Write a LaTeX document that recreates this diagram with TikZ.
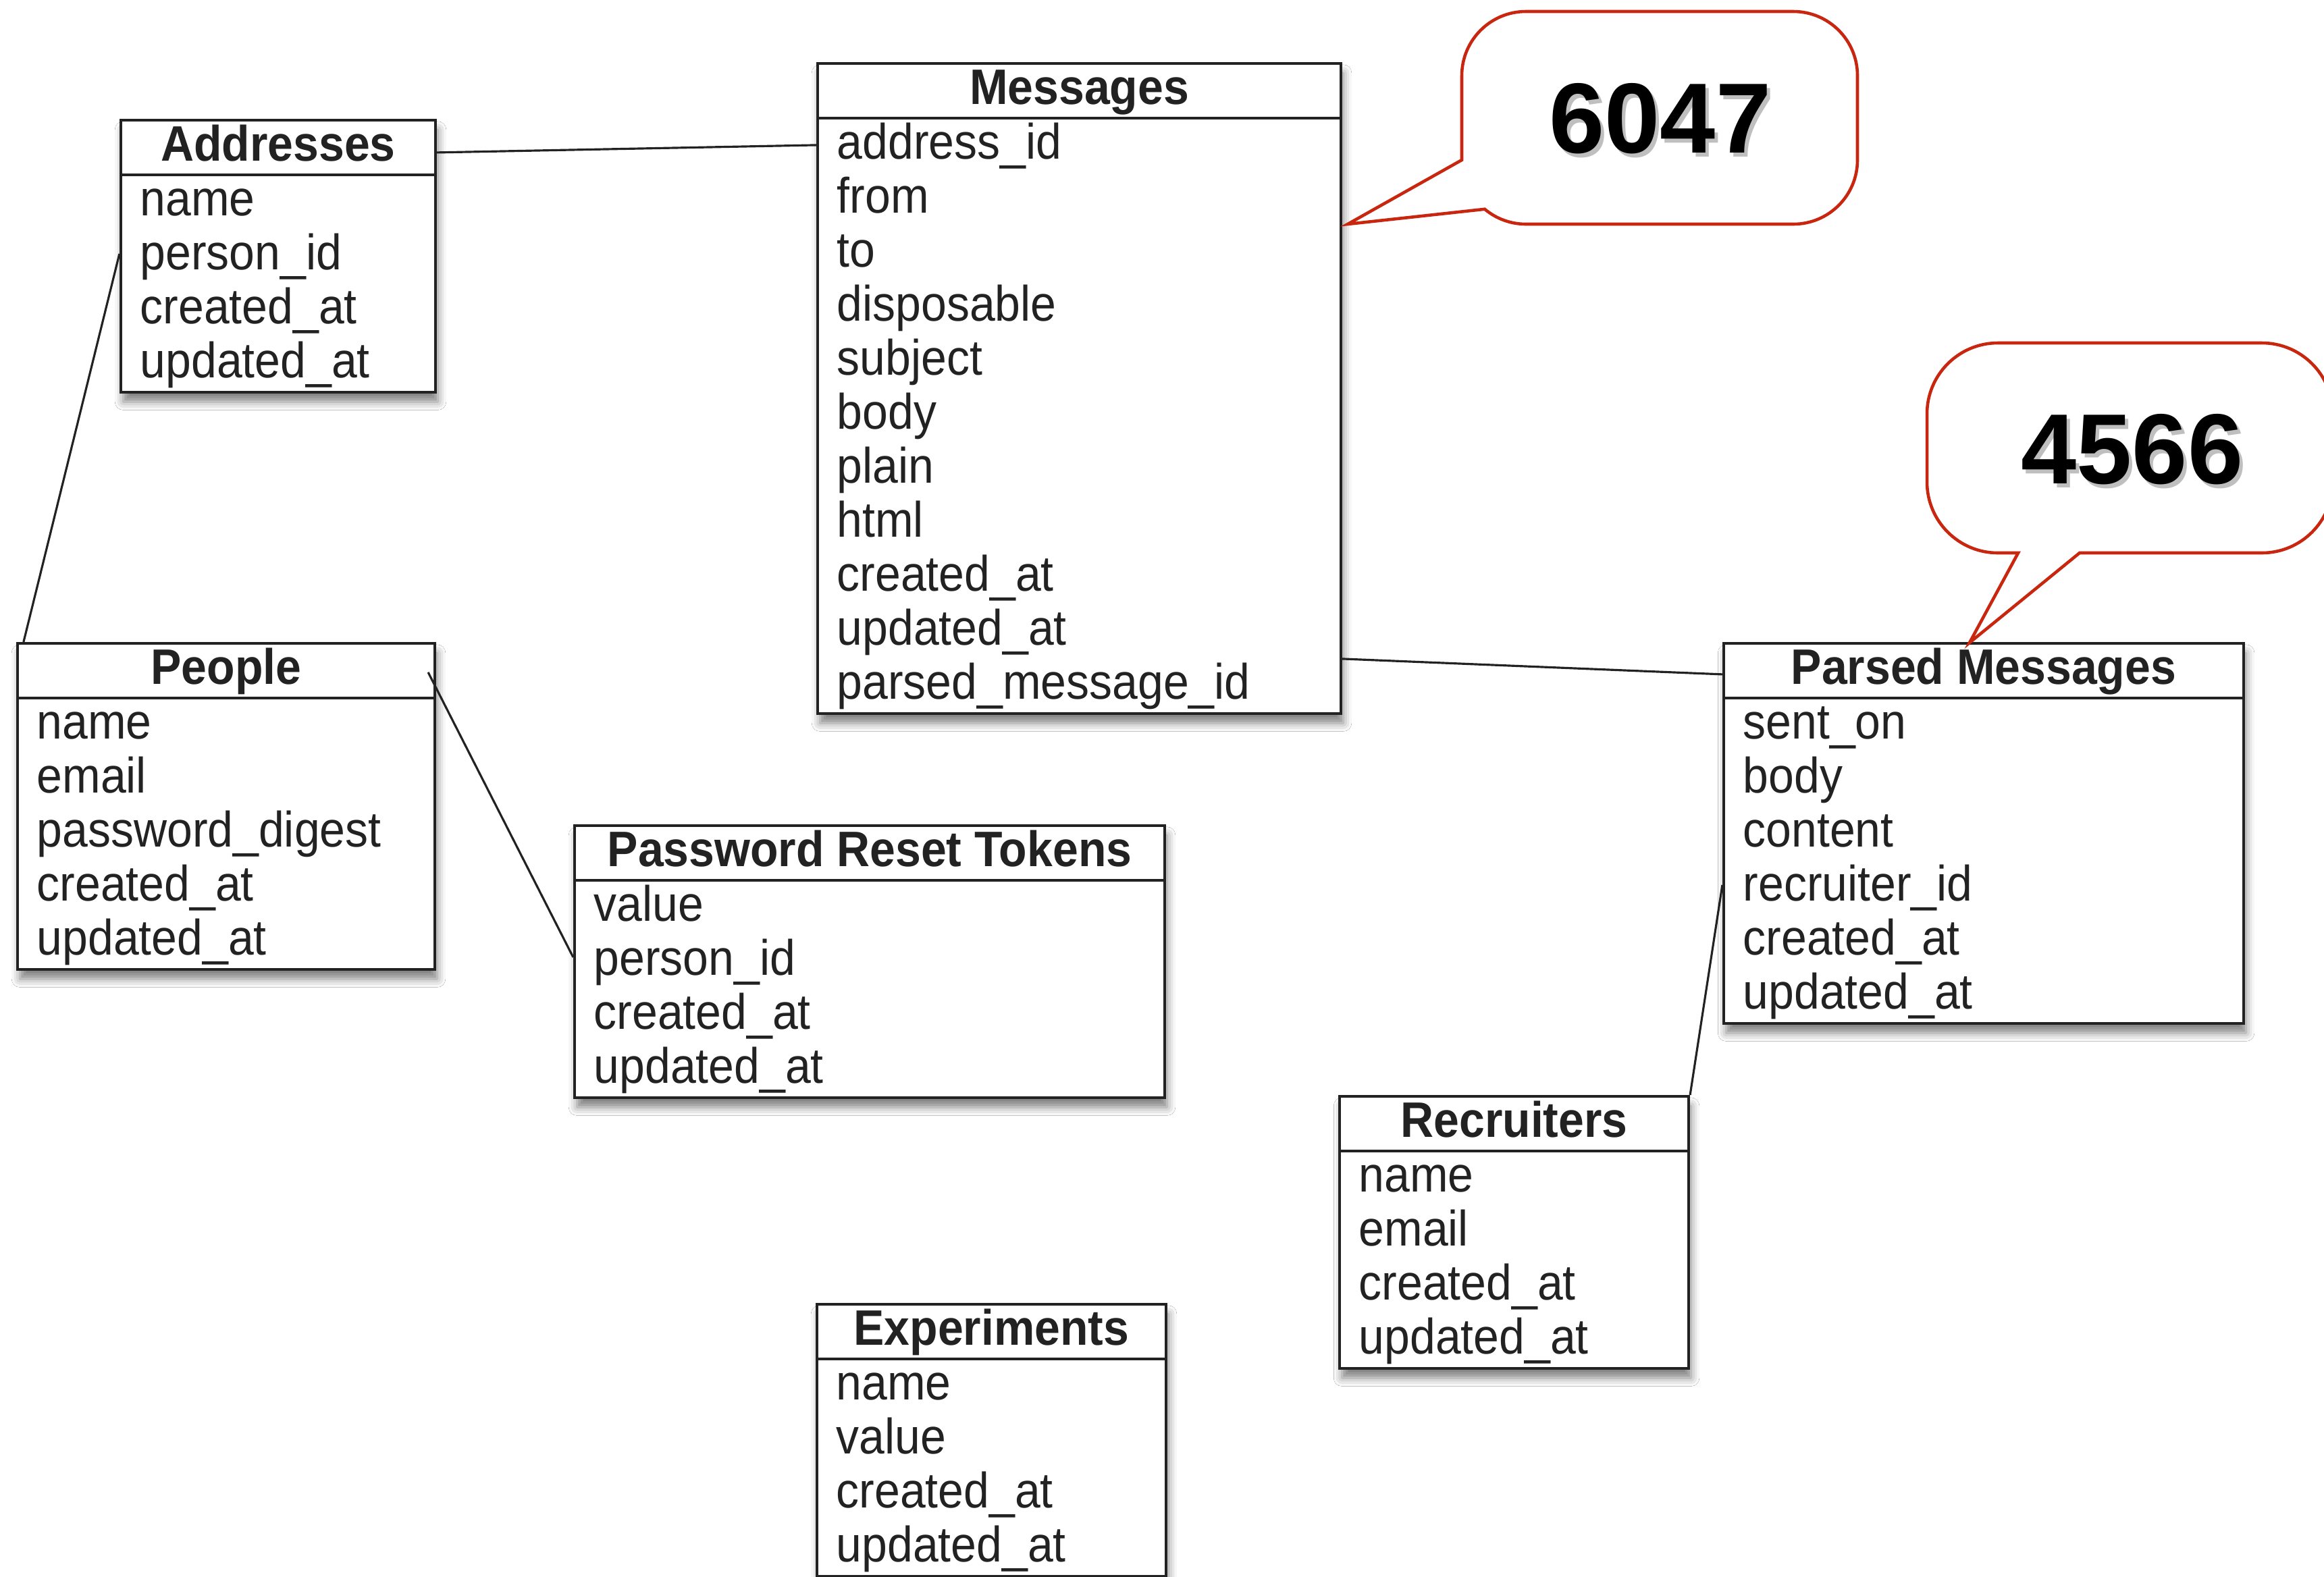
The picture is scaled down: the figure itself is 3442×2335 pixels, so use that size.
\documentclass[tikz,border=0pt]{standalone}
\usepackage{fontspec}
\setmainfont{Liberation Sans}[FakeStretch=0.92]
\newfontfamily\calloutfont{Liberation Sans}
\usetikzlibrary{calc,fit,shadows.blur}
\definecolor{calloutred}{RGB}{200,38,15}
\definecolor{ink}{RGB}{34,34,34}

\tikzset{
  tablebox/.style={draw=ink, line width=1.2pt, fill=white, inner sep=0pt,
    blur shadow={shadow xshift=1pt, shadow yshift=-4pt, shadow blur radius=3.5pt, shadow opacity=50}},
  headrule/.style={draw=ink, line width=1.2pt},
  titletext/.style={font=\bfseries\fontsize{21}{25}\selectfont, text=ink, anchor=base, inner sep=0pt},
  fieldtext/.style={font=\fontsize{21}{25}\selectfont, text=ink, anchor=base west, inner sep=0pt},
  link/.style={draw=ink, line width=0.9pt},
  callout/.style={draw=calloutred, line width=1.3pt, fill=white, line join=miter},
  calloutnum/.style={font=\calloutfont\bfseries\fontsize{42}{48}\selectfont, inner sep=0pt}
}

% #1 name, #2 left, #3 top, #4 right, #5 number of fields, #6 title, #7 fields
\newcommand\erdtable[7]{%
  \pgfmathsetmacro\erdhead{#3+81}%
  \pgfmathsetmacro\erdbottom{#3+83+80*#5}%
  \coordinate (#1-nw) at (#2,#3);
  \coordinate (#1-se) at (#4,\erdbottom);
  \node[tablebox, fit=(#1-nw)(#1-se)] (#1) {};
  \draw[headrule] (#2,\erdhead) -- (#4,\erdhead);
  \node[titletext] (#1-title) at ({(#2+#4)/2},{#3+60}) {#6};
  \foreach \fld [count=\rowidx from 0] in {#7} {
    \node[fieldtext] (#1-f\rowidx) at ({#2+28},{\erdhead+60+80*\rowidx}) {\fld};
  }
}

\begin{document}
\begin{tikzpicture}[x=0.01cm, y=-0.01cm]
  \useasboundingbox (0,0) rectangle (3442,2335);
  \fill[white] (0,0) rectangle (3442,2335);
  \clip (0,0) rectangle (3442,2335);

  % tables
  \erdtable{addr}{179}{178}{645}{4}{Addresses}{name,person\_id,created\_at,updated\_at}
  \erdtable{msg}{1211}{94}{1986}{11}{Messages}{address\_id,from,to,disposable,subject,body,plain,html,created\_at,updated\_at,parsed\_message\_id}
  \erdtable{people}{26}{953}{644}{5}{People}{name,email,password\_digest,created\_at,updated\_at}
  \erdtable{prt}{851}{1223}{1725}{4}{Password Reset Tokens}{value,person\_id,created\_at,updated\_at}
  \erdtable{pm}{2553}{953}{3323}{6}{Parsed Messages}{sent\_on,body,content,recruiter\_id,created\_at,updated\_at}
  \erdtable{rec}{1984}{1624}{2501}{4}{Recruiters}{name,email,created\_at,updated\_at}
  \erdtable{exp}{1210}{1932}{1727}{4}{Experiments}{name,value,created\_at,updated\_at}

  % relations
  \draw[link] ($(addr.north east)+(0,50)$) -- ($(msg.north west)+(0,123)$);
  \draw[link] ($(addr.north west)+(0,200)$) -- ($(people.north west)+(11,0)$);
  \draw[link] ($(people.north east)+(-12,45)$) -- ($(prt.north west)+(0,197)$);
  \draw[link] ($(msg.north east)+(0,884)$) -- ($(pm.north west)+(0,48)$);
  \draw[link] ($(pm.north west)+(0,360)$) -- (rec.north east);

  % count callouts
  \draw[callout] (2165,237) -- (2165,112) arc[start angle=180, end angle=270, radius=95]
    -- (2656,17) arc[start angle=270, end angle=360, radius=95]
    -- (2751,237) arc[start angle=0, end angle=90, radius=95]
    -- (2260,332) arc[start angle=90, end angle=130, radius=95]
    -- (1996,332) -- cycle;
  \node[calloutnum, text=black, opacity=0.25] (msgcountshadow) at (2464,182) {6047};
  \node[calloutnum, text=black] (msgcount) at (2459,176) {6047};

  \draw[callout] (2989,819) -- (2959,819) arc[start angle=90, end angle=180, radius=105]
    -- (2854,613) arc[start angle=180, end angle=270, radius=105]
    -- (3350,508) arc[start angle=270, end angle=360, radius=105]
    -- (3455,714) arc[start angle=0, end angle=90, radius=105]
    -- (3080,819) -- (2917,952) -- cycle;
  \node[calloutnum, text=black, opacity=0.25] (pmcountshadow) at (3163,672) {4566};
  \node[calloutnum, text=black] (pmcount) at (3158,666) {4566};
\end{tikzpicture}
\end{document}
